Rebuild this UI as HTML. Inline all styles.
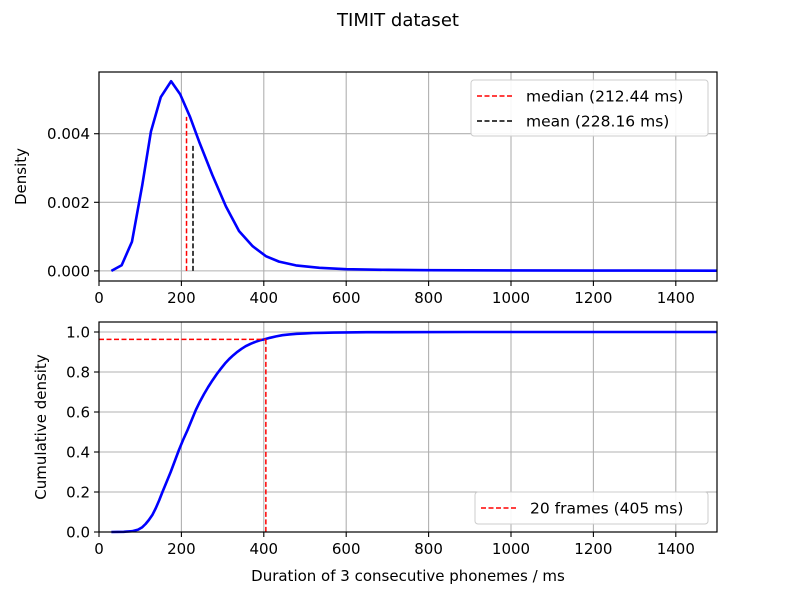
<!DOCTYPE html>
<html><head><meta charset="utf-8"><style>
body{margin:0;background:#fff}
svg{display:block;font-family:"DejaVu Sans","Liberation Sans",sans-serif}
</style></head><body>
<svg id="fig" width="797" height="598" viewBox="0 0 797 598">
<text x="398" y="26" text-anchor="middle" font-size="18">TIMIT dataset</text>
<g id="top"></g>
<g id="bot"></g>
</svg>
<script>
const densX=[30,55,80,105,126,150,175,197,221,243,275,308,340,373,405,437,478,535,600,700,800,1000,1200,1500];
const densY=[0,0.000165,0.00085,0.0025,0.00406,0.00507,0.00553,0.00515,0.00449,0.00377,0.0028,0.00188,0.00116,0.00072,0.00043,0.00027,0.00016,0.00009,0.00005,0.00003,0.00002,0.000012,0.00001,0.000005];
const cdfX=[30,60,80,95,105,113,121,130,138,146,154,164,174,184,194,204,215,225,235,245,255,265,275,286,296,306,316,326,336,346,356,368,380,390,401,415,430,445,462,480,500,520,543,570,600,650,700,900,1200,1500];
const cdfY=[0,0.001,0.004,0.012,0.024,0.04,0.06,0.087,0.12,0.158,0.2,0.25,0.3,0.355,0.41,0.46,0.51,0.56,0.61,0.652,0.69,0.725,0.757,0.79,0.817,0.843,0.865,0.884,0.901,0.916,0.929,0.941,0.951,0.958,0.963,0.971,0.978,0.984,0.988,0.991,0.993,0.995,0.996,0.997,0.998,0.999,0.999,1,1,1];
const xTicks=[0,200,400,600,800,1000,1200,1400];
const topTicks=[0,0.002,0.004];
const topTickLabels=["0.000","0.002","0.004"];
const botTicks=[0,0.2,0.4,0.6,0.8,1.0];
const botTickLabels=["0.0","0.2","0.4","0.6","0.8","1.0"];
const medianVal=[212.44,0.00449];
const meanVal=[228.16,0.00367];
const framesVal=[405,0.963];
const NS="http://www.w3.org/2000/svg";
function el(p,t,a){const e=document.createElementNS(NS,t);for(const k in a)e.setAttribute(k,a[k]);p.appendChild(e);return e;}
const L=99,R=717;
const X=v=>L+(v/1500)*(R-L);
function axes(g,top,bot,ymin,ymax,ticks,labels,ylab,yLabX){
  const Y=v=>bot-(v-ymin)/(ymax-ymin)*(bot-top);
  xTicks.forEach((t,i)=>{
    const gl=el(g,'line',{x1:X(t),x2:X(t),y1:top,y2:bot,stroke:'#b0b0b0','stroke-width':1.1});
    
    el(g,'line',{x1:X(t),x2:X(t),y1:bot,y2:bot+5,stroke:'#000','stroke-width':1.1});
    const tx=el(g,'text',{x:X(t),y:bot+22,'text-anchor':'middle','font-size':15});tx.textContent=t;
    
  });
  ticks.forEach((t,i)=>{
    const gl=el(g,'line',{x1:L,x2:R,y1:Y(t),y2:Y(t),stroke:'#b0b0b0','stroke-width':1.1});
    
    el(g,'line',{x1:L-5,x2:L,y1:Y(t),y2:Y(t),stroke:'#000','stroke-width':1.1});
    const tx=el(g,'text',{x:L-9,y:Y(t)+5.5,'text-anchor':'end','font-size':15});tx.textContent=labels[i];
    
  });
  const yl=el(g,'text',{x:yLabX,y:(top+bot)/2,'text-anchor':'middle','font-size':15,transform:`rotate(-90 ${yLabX} ${(top+bot)/2})`});yl.textContent=ylab;
  
  return Y;
}
function frame(g,top,bot){
  const r=el(g,'rect',{x:L,y:top,width:R-L,height:bot-top,fill:'none',stroke:'#000','stroke-width':1.2});
  
}
function line(g,xs,ys,Y,name){
  const p=el(g,'polyline',{points:xs.map((x,i)=>X(x)+','+Y(ys[i])).join(' '),fill:'none',stroke:'#0000ff','stroke-width':2.6,'stroke-linejoin':'round'});
  
}
const gt=document.getElementById('top');
const Yt=axes(gt,72,281,-0.000295,0.0058,topTicks,topTickLabels,'Density',26);
line(gt,densX,densY,Yt,'density-line');
const md=el(gt,'line',{x1:X(medianVal[0]),x2:X(medianVal[0]),y1:Yt(0),y2:Yt(medianVal[1]),stroke:'red','stroke-dasharray':'5,2.5','stroke-width':1.5});

const mn=el(gt,'line',{x1:X(meanVal[0]),x2:X(meanVal[0]),y1:Yt(0),y2:Yt(meanVal[1]),stroke:'#000','stroke-dasharray':'5,2.5','stroke-width':1.5});

frame(gt,72,281);
const lg=el(gt,'g',{});
el(lg,'rect',{x:471,y:80,width:237,height:56,rx:3,fill:'#fff',stroke:'#ccc','fill-opacity':0.9});
el(lg,'line',{x1:477,x2:512,y1:96,y2:96,stroke:'red','stroke-dasharray':'5,2.5','stroke-width':1.5});
let t=el(lg,'text',{x:526,y:101.5,'font-size':15.5});t.textContent='median (212.44 ms)';

el(lg,'line',{x1:477,x2:512,y1:121,y2:121,stroke:'#000','stroke-dasharray':'5,2.5','stroke-width':1.5});
t=el(lg,'text',{x:526,y:126.5,'font-size':15.5});t.textContent='mean (228.16 ms)';

const gb=document.getElementById('bot');
const Yb=axes(gb,322,532,0,1.05,botTicks,botTickLabels,'Cumulative density',46);
line(gb,cdfX,cdfY,Yb,'cumulative-line');
const fh=el(gb,'line',{x1:L,x2:X(framesVal[0]),y1:Yb(framesVal[1]),y2:Yb(framesVal[1]),stroke:'red','stroke-dasharray':'5,2.5','stroke-width':1.5});

const fv=el(gb,'line',{x1:X(framesVal[0]),x2:X(framesVal[0]),y1:Yb(framesVal[1]),y2:Yb(0),stroke:'red','stroke-dasharray':'5,2.5','stroke-width':1.5});

frame(gb,322,532);
const xt=el(gb,'text',{x:408,y:581,'text-anchor':'middle','font-size':15});xt.textContent='Duration of 3 consecutive phonemes / ms';

const lb=el(gb,'g',{});
el(lb,'rect',{x:475,y:492,width:233,height:32,rx:3,fill:'#fff',stroke:'#ccc','fill-opacity':0.9});
el(lb,'line',{x1:481,x2:516,y1:508,y2:508,stroke:'red','stroke-dasharray':'5,2.5','stroke-width':1.5});
t=el(lb,'text',{x:530,y:513.5,'font-size':15.5});t.textContent='20 frames (405 ms)';

</script>
</body></html>
